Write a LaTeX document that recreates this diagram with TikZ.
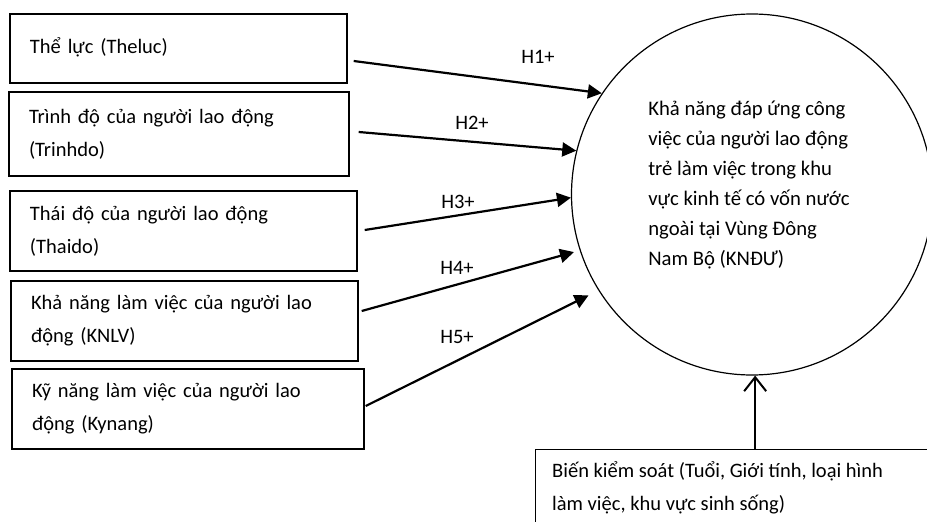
\documentclass[tikz,border=0pt]{standalone}
\usepackage{fontspec}
\setmainfont{Carlito}
\usepackage{tikz}
\usetikzlibrary{arrows.meta,positioning}
\tikzset{
	factor/.style={draw, line width=1.4pt, align=left, inner xsep=20pt, inner ysep=0pt, font=\fontsize{20.5}{33}\selectfont},
	hyp/.style={line width=2.2pt, -{Triangle[length=14pt,width=14pt]}},
	hyplabel/.style={font=\fontsize{20.5}{24}\selectfont},
	ctrlarrow/.style={line width=2.2pt, -{Straight Barb[length=14pt,width=22pt,line width=2pt]}}
}

\begin{document}
\begin{tikzpicture}[x=1pt, y=-1pt]
			%%%%% START %%%%%
			\useasboundingbox (0, 0) rectangle (927, 522);
			\clip (0, 0) rectangle (927, 522);
			
			\node[factor, text width=297pt, minimum height=69pt] (b1) at (178.5, 48.5) {Thể lực (Theluc)\vphantom{\rule[-6pt]{0pt}{1pt}}};
			\node[factor, text width=300pt, minimum height=84pt] (b2) at (179, 134) {Trình độ của người lao động\\(Trinhdo)};
			\node[factor, text width=307pt, minimum height=80pt] (b3) at (183.5, 231) {Thái độ của người lao động\\(Thaido)};
			\node[factor, text width=307pt, minimum height=80pt] (b4) at (184.5, 321) {Khả năng làm việc của người lao\\động (KNLV)};
			\node[factor, text width=312pt, minimum height=80pt] (b5) at (188, 409) {Kỹ năng làm việc của người lao\\động (Kynang)};
			
			\node[draw, circle, line width=1.2pt, minimum size=361pt, inner sep=0pt] (kn) at (752, 194.5) {};
			\node[align=left, font=\fontsize{20.7}{30}\selectfont] (kntext) at ([xshift=-3pt, yshift=10pt]kn.center) {Khả năng đáp ứng công\\việc của người lao động\\trẻ làm việc trong khu\\vực kinh tế có vốn nước\\ngoài tại Vùng Đông\\Nam Bộ (KNĐƯ)};
			
			\draw[hyp] ([xshift=6pt, yshift=-12.5pt]b1.east) -- (kn.146.6);
			\draw[hyp] ([xshift=9pt, yshift=2pt]b2.east) -- (kn.166.3);
			\draw[hyp] ([xshift=7pt, yshift=1pt]b3.east) -- (kn.181.7);
			\draw[hyp, shorten >=6pt] ([xshift=3pt, yshift=10pt]b4.east) -- (kn.198.9);
			\draw[hyp, shorten >=11pt] ([xshift=1pt, yshift=3pt]b5.east) -- (kn.212.6);
			
			\node[hyplabel] (h1) at (538, 57) {H1+};
			\node[hyplabel] (h2) at (472, 123) {H2+};
			\node[hyplabel] (h3) at (458, 202) {H3+};
			\node[hyplabel] (h4) at (457, 268) {H4+};
			\node[hyplabel] (h5) at (457, 337) {H5+};
			
			% control variables
			\node[draw, line width=1.4pt, anchor=north west, minimum width=420pt, minimum height=110pt] (ctl) at (535, 449) {};
			\node[anchor=north west, align=left, inner sep=0pt, font=\fontsize{20.5}{33}\selectfont] (ctltext) at ([xshift=17pt, yshift=-12pt]ctl.north west) {Biến kiểm soát (Tuổi, Giới tính, loại hình\\làm việc, khu vực sinh sống)};
			\draw[ctrlarrow] (ctl.north -| kn.-89) -- (kn.-89);
			
			%%%%% END %%%%%
\end{tikzpicture}
\end{document}
